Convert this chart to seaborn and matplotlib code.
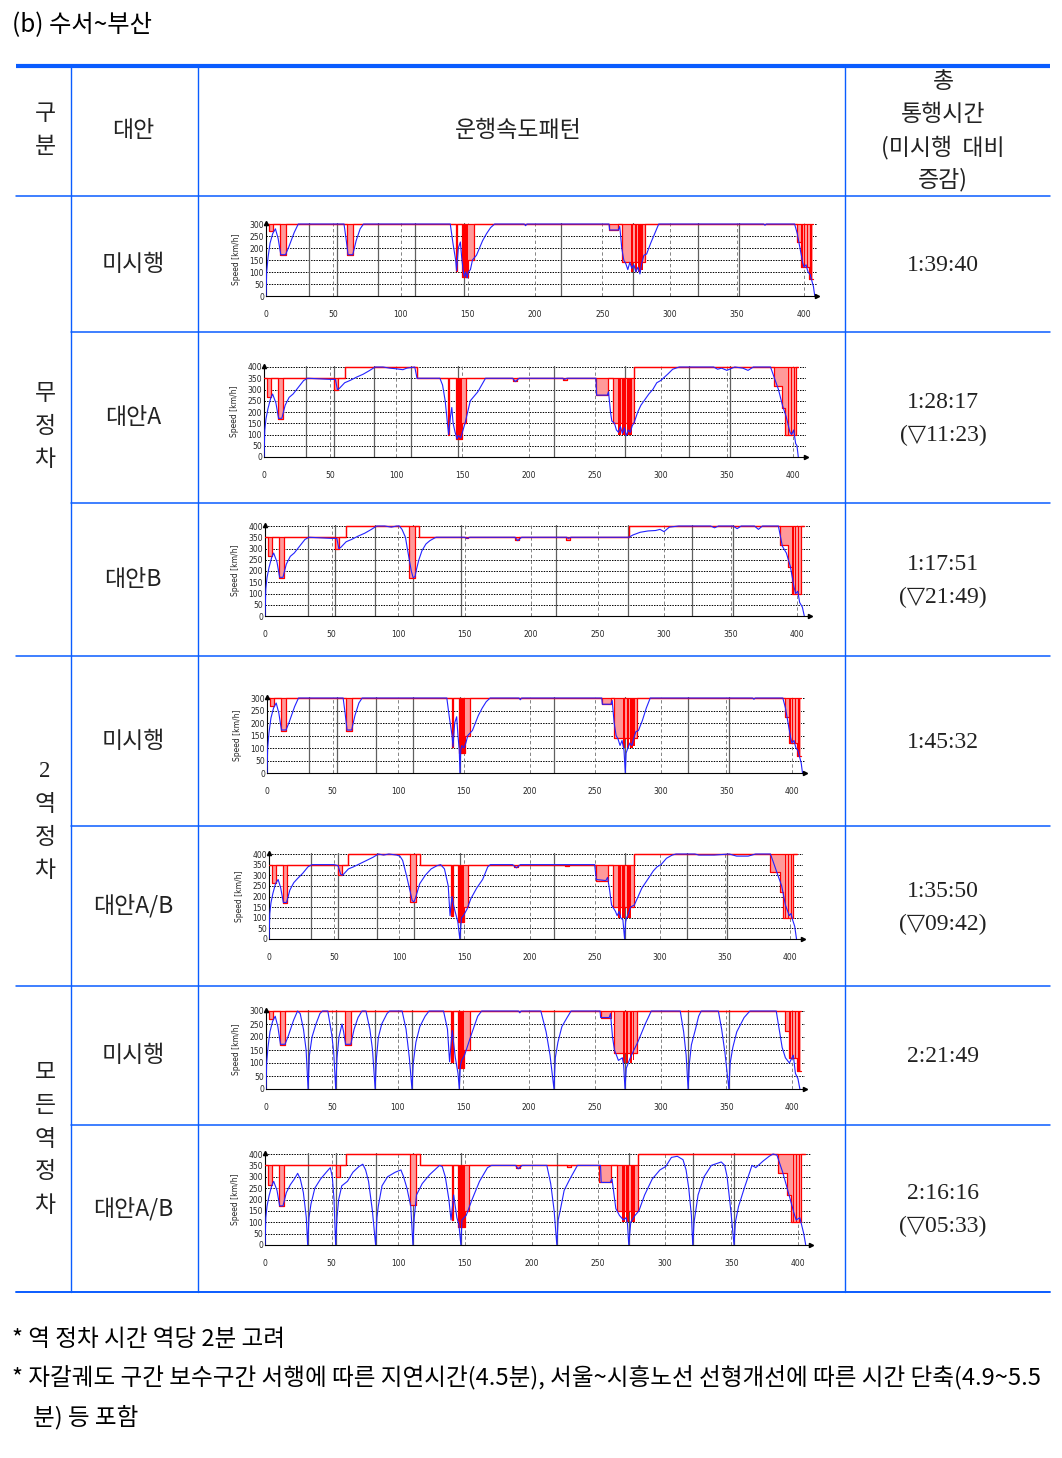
import numpy as np
import pandas as pd
import matplotlib
matplotlib.use('Agg')
import matplotlib.pyplot as plt
import seaborn as sns

sns.set_theme(style='white')
plt.rcParams['font.family'] = ['Noto Sans CJK KR', 'DejaVu Sans']

# ---------------- table text ----------------
TITLE = '(b) 수서~부산'
HEAD_GUBUN = ['구', '분']
HEAD_ALT = '대안'
HEAD_PATTERN = '운행속도패턴'
HEAD_TIME = ['총', '통행시간', '(미시행  대비', '증감)']
GROUPS = ['무정차', '2역정차', '모든역정차']
GROUP_ROWS = [3, 2, 2]
ALTS = ['미시행', '대안A', '대안B', '미시행', '대안A/B', '미시행', '대안A/B']
TIMES = ['1:39:40', '1:28:17', '1:17:51', '1:45:32', '1:35:50', '2:21:49', '2:16:16']
DELTAS = ['', '(▽11:23)', '(▽21:49)', '', '(▽09:42)', '', '(▽05:33)']
NOTES = ['* 역 정차 시간 역당 2분 고려',
         '* 자갈궤도 구간 보수구간 서행에 따른 지연시간(4.5분), 서울~시흥노선 선형개선에 따른 시간 단축(4.9~5.5',
         '분) 등 포함']

# ---------------- chart data (km, speed km/h) ----------------
STATIONS_KM = [32, 53, 83, 111, 147, 219, 273, 321, 352]
X_TICKS = [0, 50, 100, 150, 200, 250, 300, 350, 400]

# 1) 무정차 - 미시행
SPD_1 = [(0,0),(0.5,100),(1.5,160),(3,220),(5,260),(7,280),(9,240),(11,172),(14.5,172),(17,205),(19,235),(21,265),(24,300),
         (58,300),(59.5,240),(61,172),(64.5,172),(67,230),(70,280),(72.5,300),(137,300),(139,220),(141,150),(141.7,105),
         (143,200),(144.5,225),(145.5,160),(146.5,110),(147.5,80),(148.5,100),(149.5,75),(150.5,100),(152,110),(153.5,150),
         (156.5,170),(161,230),(164,260),(167,285),(170,300),(192,300),(193,293),(194,300),(255,300),(255.5,275),(262,275),
         (263,290),(264.5,200),(266,150),(267.5,135),(269,110),(270.5,140),(272,115),(273.5,130),(275,100),(276.5,120),
         (278,92),(279.5,140),(281,170),(283,175),(286,220),(289,260),(292,300),(370,300),(371,295),(372,300),(393,300),
         (395,260),(397,200),(399,140),(400,120),(401.5,130),(403,100),(404.5,90),(406,60),(407,40),(408,0)]
# limit steps: (km, restricted limit, line ceiling)
LIM_1 = [(0,300,300),(2.5,270,300),(5,300,300),(10.5,170,300),(14.5,300,300),(60,170,300),(64.5,300,300),(141,105,300),
         (142,300,300),(146,80,300),(150.5,150,300),(155,300,300),(255,275,300),(262,300,300),(264.5,140,300),(282,300,300),
         (394.5,225,300),(397.5,120,300),(404,70,300),(407,70,300)]
# dense restrictions: (km from, km to, limit, ceiling)
DARK_1 = [(141,142,105,300),(146,150.5,80,300),(271.5,273,100,300),(274,275.5,100,300),(276.5,278.5,100,300),
          (279,280,110,300),(398,399,120,300),(400,401,120,300),(402,403,120,300),(404.5,406,70,300)]

# 2) 무정차 - 대안A
SPD_2 = [(0,0),(0.6,120),(1.5,170),(3,215),(5,260),(6.5,280),(9,240),(11,172),(13.5,172),(16,230),(19,265),(22,280),(26,310),
         (30,340),(33,350),(40,348),(50,345),(54,345),(55.5,300),(57,305),(61,330),(65,340),(70,355),(75,368),(80,385),(84,400),
         (90,400),(95,395),(100,392),(105,388),(108,395),(114,400),(115.7,350),(133,350),(135,320),(137,250),(138.7,150),
         (139.6,100),(141,180),(142,220),(143,150),(144.5,110),(146,80),(147,95),(148.8,85),(150.5,120),(152,150),(154,200),
         (156,250),(161.7,290),(167.5,350),(188,350),(190,335),(193,350),(226,350),(227,345),(229,350),(251,350),(251.5,275),
         (259.6,275),(260.5,290),(262,200),(263,160),(265,150),(266.5,120),(268,110),(269.5,135),(271,105),(272.5,130),(274,95),
         (275.5,120),(277,110),(278.5,140),(279.7,150),(282.6,200),(285,230),(288,255),(291,280),(294,300),(297,330),(300,340),
         (305.6,370),(309,390),(314,400),(340,400),(343,390),(346,395),(350,385),(356,400),(362,395),(366,385),(370,400),
         (383,400),(386,350),(389,300),(392,230),(394.8,180),(397.7,110),(399,100),(400.5,120),(402,60),(403,50),(404,0)]
LIM_2 = [(0,350,350),(2.5,265,350),(5,350,350),(10.5,170,350),(14,350,350),(53,300,350),(56,350,350),(61,400,400),
         (115.7,350,350),(139,100,350),(140,350,350),(145,80,350),(150,150,350),(152.5,350,350),(188,340,350),(191,350,350),
         (226,342,350),(229,350,350),(251,275,350),(260,350,350),(264,150,350),(280,400,400),(386,315,400),(392,220,400),
         (394,100,400),(402,400,400),(404,400,400)]
DARK_2 = [(139,140,100,350),(145,150,80,350),(268,270,100,350),(271,273.5,100,350),(274.5,278,100,350),
          (396,397,100,400),(398.5,399.5,100,400),(400.5,401.5,100,400)]

# 3) 무정차 - 대안B
SPD_3 = [(0,0),(0.6,120),(1.5,170),(3,215),(5,260),(6.5,280),(9,240),(11,172),(13.5,172),(16,230),(19,265),(22,280),(26,310),
         (30,340),(33,350),(40,348),(50,345),(54,345),(55.5,300),(57,305),(61,330),(65,340),(70,355),(75,368),(80,385),(84,400),
         (90,400),(95,395),(99,400),(101,400),(103,385),(105.6,350),(107,300),(108.5,250),(110,200),(111.4,170),(112.8,175),
         (114,210),(115.7,250),(118,290),(121,320),(124,335),(127,345),(128.6,350),(150,350),(152,345),(154,350),(188,350),
         (190,335),(193,350),(227,350),(228,345),(230,350),(273.6,350),(276.6,360),(282,372),(288,378),(293.7,380),(297,385),
         (300,375),(304,395),(311,400),(335,400),(338,392),(341,400),(352,400),(355,388),(358,400),(368,400),(371,385),
         (374,400),(386,400),(389,310),(392,280),(395,220),(397.7,130),(399,100),(400.6,110),(402,60),(404,40),(405.5,0)]
LIM_3 = [(0,350,350),(2.5,265,350),(5,350,350),(10.5,170,350),(14,350,350),(53,300,350),(56,350,350),(61,400,400),
         (108.5,170,400),(113,400,400),(115.5,350,350),(151,345,350),(153,350,350),(188,340,350),(191,350,350),
         (226,340,350),(229,350,350),(273.6,400,400),(387,315,400),(393,220,400),(396,100,400),(403,400,400),(405,400,400)]
DARK_3 = [(396.5,397.5,100,400),(398.5,399.5,100,400),(400.5,401.5,100,400)]

# 4) 2역 정차 - 미시행
SPD_4 = [(0,0),(0.5,100),(1.5,160),(3,220),(5,260),(7,280),(9,240),(11,172),(14.5,172),(17,205),(19,235),(21,265),(24,300),
         (58,300),(59.5,240),(61,172),(64.5,172),(67,230),(70,280),(72.5,300),(137,300),(139,220),(141,150),(141.7,105),
         (143,200),(144.5,225),(145.5,150),(146.5,90),(147,0),(147.6,90),(148.5,110),(150,100),(151.5,120),(153,150),
         (156.5,170),(161,230),(164,260),(167,285),(170,300),(192,300),(193,293),(194,300),(255,300),(255.5,275),(262,275),
         (263,290),(264.5,200),(266,150),(267.5,135),(269,110),(270.5,130),(272,90),(273,0),(273.6,80),(275,100),(276.5,120),
         (278,110),(279.5,140),(281,165),(283,170),(286,210),(289,260),(292,300),(370,300),(371,295),(372,300),(393,300),
         (395,260),(397,200),(399,140),(400,120),(401.5,130),(403,100),(404.5,90),(406,60),(407,40),(408,0)]
LIM_4 = LIM_1
DARK_4 = DARK_1

# 5) 2역 정차 - 대안A/B
SPD_5 = [(0,0),(0.6,120),(1.5,170),(3,215),(5,260),(7,280),(9,240),(11,172),(13.5,172),(16,230),(19,265),(22,285),(26,310),
         (30,340),(33,350),(50,350),(53,345),(55,305),(56.5,300),(58,310),(61,330),(65,340),(70,355),(75,370),(80,385),(84,400),
         (88,395),(92,400),(98,395),(100.5,390),(102.6,370),(105.5,300),(108.5,220),(110,180),(111.4,175),(112.8,200),
         (115.7,260),(120,300),(124.5,330),(129,345),(131.8,350),(134.7,330),(137.6,250),(139,110),(140.5,200),(142,150),
         (145,80),(146.5,0),(147.8,100),(149.3,110),(152,140),(155,190),(159.5,240),(164,280),(168,340),(170,350),(187,350),
         (190,335),(193,350),(250,350),(251.3,280),(258.6,275),(260,290),(261.5,230),(263,160),(266,130),(267.3,110),
         (268.8,130),(270,100),(271.7,90),(273,0),(273.8,80),(274.6,100),(276,120),(277.5,150),(280.5,160),(283.4,200),
         (286.3,240),(290.7,280),(295,320),(298,340),(301,350),(305.2,380),(309.6,395),(312.5,400),(327,400),(330,395),
         (341.7,395),(353.4,400),(359,390),(367.9,390),(373.6,400),(385,400),(390.7,300),(393.6,250),(396.5,160),
         (399.4,110),(400.8,120),(402,90),(403.6,60),(405,0)]
LIM_5 = [(0,350,350),(2.5,265,350),(5,350,350),(10.5,170,350),(14,350,350),(53,300,350),(56,350,350),(61,400,400),
         (108.5,175,400),(113,400,400),(116,350,350),(140,110,350),(141,350,350),(145,80,350),(150,150,350),(153,350,350),
         (188,340,350),(191,350,350),(227,342,350),(230,350,350),(251,275,350),(260,350,350),(264,150,350),(280,400,400),
         (385,315,400),(392,220,400),(395,100,400),(402,400,400),(405,400,400)]
DARK_5 = [(140,141,110,350),(145,150,80,350),(268,270,100,350),(271,273.5,100,350),(274.5,278,100,350),
          (396,397,100,400),(398.5,399.5,100,400),(400.5,401.5,100,400)]

# 6) 모든역 정차 - 미시행
SPD_6 = [(0,0),(0.5,100),(1.5,160),(3,220),(5,260),(7,280),(9,240),(11,172),(14.5,172),(17,205),(19,235),(21,265),(24,300),
         (26,290),(28.5,230),(30.5,150),(32,0),(33,130),(35,200),(38,250),(41,290),(43,300),(47,300),(50,210),(51.5,140),
         (53,0),(54,120),(55.5,200),(57.8,250),(59,220),(60.5,172),(64.5,172),(67,230),(70,275),(73,300),(76,300),(79,230),
         (81,150),(83,0),(84,120),(85.5,200),(88,250),(92,290),(94,300),(103.5,300),(106.5,230),(109,120),(111,0),(112,100),
         (114,180),(117,240),(121,280),(124,300),(135,300),(138,230),(139.6,105),(141.6,225),(144,120),(146,60),(147,0),
         (147.8,90),(148.8,110),(151,130),(155.5,200),(161,280),(164,300),(192,300),(193,293),(194,300),(209,300),(213,220),
         (216,130),(219,0),(220,120),(222,180),(225,240),(229,275),(232,300),(254,300),(254.5,275),(261,275),(262,290),
         (263.5,200),(265,150),(268,110),(271,120),(272,90),(273,0),(274,80),(277,120),(279.8,150),(282.7,180),(288.4,250),
         (293,300),(315,300),(317.6,220),(319.5,130),(321,0),(322,100),(323.5,170),(326.6,230),(329,280),(331,300),(344,300),
         (346.5,230),(349,140),(352,0),(353,100),(355,160),(358,220),(363.6,275),(368,300),(388,300),(392.5,160),(395,120),
         (398,100),(401,130),(402.6,60),(404.5,40),(406,0)]
LIM_6 = LIM_1
DARK_6 = DARK_1

# 7) 모든역 정차 - 대안A/B
SPD_7 = [(0,0),(0.6,120),(1.5,170),(3,215),(5,260),(6.5,280),(9,240),(11,172),(13.5,172),(16,230),(19,265),(22,290),
         (24.5,315),(26.5,290),(28.8,230),(31,120),(32,0),(33,120),(34.5,180),(37.4,250),(41.7,290),(46,320),(49,340),
         (50.5,300),(51.8,200),(53,0),(54,120),(55.3,200),(57.6,260),(61.9,280),(66,320),(70.5,345),(73.4,355),(75.5,330),
         (77.7,280),(80.6,150),(83,0),(84,120),(85,170),(87.8,260),(92,300),(97.8,320),(102,330),(104,300),(106.5,250),
         (109.4,170),(111,0),(112,120),(113.7,220),(118,270),(123.7,310),(131,350),(133,345),(135.3,300),(138,200),
         (139.6,110),(141.6,220),(144,120),(145.5,90),(147,0),(147.8,110),(151,130),(155.4,200),(161,280),(167,340),(170,350),
         (188,350),(190,335),(193,350),(211.5,350),(214.4,270),(217,150),(219,0),(220,110),(221.5,150),(224.5,240),
         (228.8,290),(234.5,350),(251.8,350),(252.3,275),(259,275),(260.4,290),(263.3,160),(266,130),(269,110),(271,120),
         (272,95),(273,0),(274.5,100),(277.7,130),(280.6,150),(284.9,220),(290.6,290),(296.4,330),(300.7,345),(305,385),
         (309.4,390),(313.7,375),(316,330),(318,250),(320,130),(321,0),(322,100),(325,220),(329.5,300),(335,350),
         (342.4,365),(345,350),(346.8,300),(349.6,150),(352,0),(353,100),(355.4,170),(359.7,250),(365.5,350),(368.3,340),
         (374,370),(378.4,390),(381.3,400),(384.2,395),(388.5,320),(392.8,230),(397,140),(398.6,110),(401.4,120),
         (404.3,50),(405.8,0)]
LIM_7 = LIM_5
DARK_7 = DARK_5

CHART_TOPS = [300, 400, 400, 300, 400, 300, 400]

# ---------------- layout (pixels) ----------------
W, H = 1062, 1458
ROW_EDGES = [196, 332, 503, 656, 826, 986, 1125, 1292]
COL_X = [71, 198, 845]
# (x at km 0, x at km 400, y at speed 0, y at top speed)
CHART_GEOM = [(266, 804, 296, 224), (264, 793, 457, 367), (265, 797, 616, 526),
              (267, 792, 773, 698), (269, 790, 939, 854), (266, 792, 1089, 1011),
              (265, 798, 1245, 1154)]

BLUE_LINE = '#0a5cff'
TXT = '#222222'
SERIF = ['Liberation Serif', 'DejaVu Serif', 'DejaVu Sans']
NARROW = ['Liberation Sans Narrow', 'DejaVu Sans']

fig = plt.figure(figsize=(W / 100, H / 100), dpi=100)
bg = fig.add_axes([0, 0, 1, 1])
bg.set_xlim(0, W)
bg.set_ylim(H, 0)
bg.axis('off')

# table lines
bg.plot([16, 1050], [66, 66], color=BLUE_LINE, lw=3.0, solid_capstyle='butt')
for y in [196, 656, 986]:
    bg.plot([16, 1050], [y, y], color=BLUE_LINE, lw=1.1)
bg.plot([16, 1050], [1292, 1292], color=BLUE_LINE, lw=1.4)
for y in [332, 503, 826, 1125]:
    bg.plot([71, 1050], [y, y], color=BLUE_LINE, lw=1.1)
for x in COL_X:
    bg.plot([x, x], [66, 1292], color=BLUE_LINE, lw=1.0)

# title & header
bg.text(12, 25, TITLE, fontsize=17.5, ha='left', va='center', color='black')
for i, ch in enumerate(HEAD_GUBUN):
    bg.text(45, 113 + 33 * i, ch, fontsize=16.5, ha='center', va='center', color=TXT)
bg.text(133, 130, HEAD_ALT, fontsize=16.5, ha='center', va='center', color=TXT)
bg.text(518, 130, HEAD_PATTERN, fontsize=16.5, ha='center', va='center', color=TXT)
for i, line in enumerate(HEAD_TIME):
    bg.text(943, 81 + 33 * i, line, fontsize=16.5, ha='center', va='center', color=TXT)

# group labels
r = 0
for g, n in zip(GROUPS, GROUP_ROWS):
    top_y, bot_y = ROW_EDGES[r], ROW_EDGES[r + n]
    c = (top_y + bot_y) / 2
    k = len(g)
    for j, ch in enumerate(g):
        yy = c + (j - (k - 1) / 2) * 33
        fam = SERIF if ch.isdigit() else ['Noto Sans CJK KR', 'DejaVu Sans']
        bg.text(45, yy, ch, fontsize=16.5, ha='center', va='center', color=TXT, family=fam)
    r += n

# row labels and times
for i in range(7):
    c = (ROW_EDGES[i] + ROW_EDGES[i + 1]) / 2
    bg.text(133, c, ALTS[i], fontsize=16.5, ha='center', va='center', color=TXT)
    if DELTAS[i]:
        bg.text(943, c - 15, TIMES[i], fontsize=17, ha='center', va='center', color=TXT, family=SERIF)
        bg.text(943, c + 18, DELTAS[i], fontsize=17, ha='center', va='center', color=TXT, family=SERIF)
    else:
        bg.text(943, c + 1, TIMES[i], fontsize=17, ha='center', va='center', color=TXT, family=SERIF)

# footnotes
bg.text(12, 1340, NOTES[0], fontsize=17, ha='left', va='center', color='black')
bg.text(12, 1378, NOTES[1], fontsize=17, ha='left', va='center', color='black')
bg.text(33, 1417, NOTES[2], fontsize=17, ha='left', va='center', color='black')


def draw_chart(ax, spd, lim, dark, top):
    sdf = pd.DataFrame(spd, columns=['km', 'speed'])
    ldf = pd.DataFrame(lim, columns=['km', 'lim', 'ceil'])
    for v in range(50, top + 1, 50):
        ax.axhline(v, color='black', lw=0.7, ls=(0, (1.5, 1.2)), zorder=1)
    for k in X_TICKS[1:]:
        ax.axvline(k, color='#707070', lw=0.6, ls=(0, (4, 3)), zorder=1)
    for k in STATIONS_KM:
        ax.axvline(k, color='#606060', lw=0.9, zorder=1)
    ax.fill_between(ldf['km'], ldf['lim'], ldf['ceil'], step='post', color='#ff9a9a', lw=0, zorder=2)
    for a, b, v, cl in dark:
        ax.fill_between([a, b], [v, v], [cl, cl], color='#ff0000', lw=0, zorder=2.5)
    sns.lineplot(data=ldf, x='km', y='lim', ax=ax, color='#ff0000', lw=0.9, estimator=None, sort=False,
                 drawstyle='steps-post', zorder=3)
    sns.lineplot(data=ldf, x='km', y='ceil', ax=ax, color='#ff0000', lw=0.9, estimator=None, sort=False,
                 drawstyle='steps-post', zorder=3)
    sns.lineplot(data=sdf, x='km', y='speed', ax=ax, color='#2222ff', lw=0.8, estimator=None, sort=False, zorder=4)
    ax.set_xlim(0, 410)
    ax.set_ylim(0, top * 1.015)
    ax.set_xticks(X_TICKS)
    ax.set_yticks(list(range(0, top + 1, 50)))
    ax.set_xticklabels([str(t) for t in X_TICKS], fontsize=5.5, family=NARROW)
    ax.set_yticklabels([str(t) for t in range(0, top + 1, 50)], fontsize=5.5, family=NARROW)
    ax.tick_params(axis='x', length=2, pad=8, width=0.6)
    ax.tick_params(axis='y', length=0, pad=1.5)
    ax.set_xlabel('')
    ax.set_ylabel('Speed [km/h]', fontsize=5.5, family=NARROW, labelpad=6)
    for s in ['top', 'right']:
        ax.spines[s].set_visible(False)
    for s in ['left', 'bottom']:
        ax.spines[s].set_color('black')
        ax.spines[s].set_linewidth(0.8)
    ax.plot([0], [1.0], marker='^', color='black', ms=3, transform=ax.transAxes, clip_on=False, zorder=6)
    ax.plot([1.0], [0], marker='>', color='black', ms=3, transform=ax.transAxes, clip_on=False, zorder=6)
    ax.patch.set_alpha(0)


SPEEDS = [SPD_1, SPD_2, SPD_3, SPD_4, SPD_5, SPD_6, SPD_7]
LIMITS = [LIM_1, LIM_2, LIM_3, LIM_4, LIM_5, LIM_6, LIM_7]
DARKS = [DARK_1, DARK_2, DARK_3, DARK_4, DARK_5, DARK_6, DARK_7]

for i in range(7):
    x0, x400, y0, ytop = CHART_GEOM[i]
    top = CHART_TOPS[i]
    ppk = (x400 - x0) / 400
    ppv = (y0 - ytop) / top
    right = x0 + 410 * ppk
    top_px = y0 - top * 1.015 * ppv
    ax = fig.add_axes([x0 / W, 1 - y0 / H, (right - x0) / W, (y0 - top_px) / H])
    draw_chart(ax, SPEEDS[i], LIMITS[i], DARKS[i], top)

fig.savefig('out.png', dpi=100)
